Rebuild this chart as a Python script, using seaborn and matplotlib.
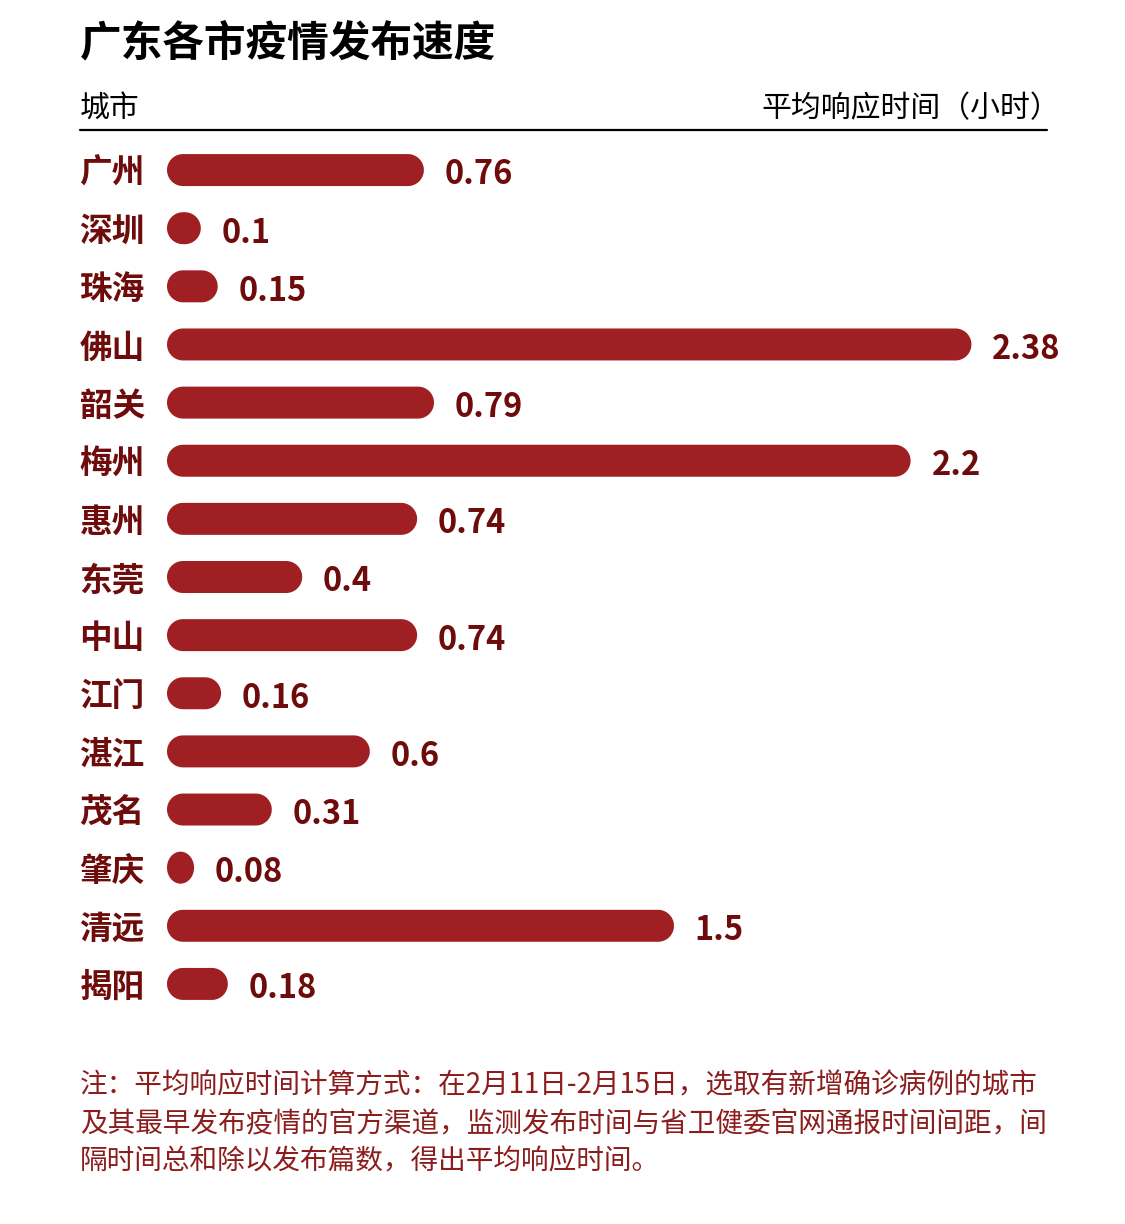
import numpy as np
import pandas as pd
import seaborn as sns
import matplotlib.pyplot as plt
from matplotlib.lines import Line2D
from matplotlib.patches import Polygon

cities = ['广州', '深圳', '珠海', '佛山', '韶关', '梅州', '惠州', '东莞',
          '中山', '江门', '湛江', '茂名', '肇庆', '清远', '揭阳']
hours = [0.76, 0.1, 0.15, 2.38, 0.79, 2.2, 0.74, 0.4,
         0.74, 0.16, 0.6, 0.31, 0.08, 1.5, 0.18]

title = '广东各市疫情发布速度'
left_head = '城市'
right_head = '平均响应时间（小时）'
note_lines = ['注：平均响应时间计算方式：在2月11日-2月15日，选取有新增确诊病例的城市',
              '及其最早发布疫情的官方渠道，监测发布时间与省卫健委官网通报时间间距，间',
              '隔时间总和除以发布篇数，得出平均响应时间。']

bar_color = '#a01f22'
text_red = '#6e0b0b'
note_red = '#8c1d1d'

sns.set_theme(style='white')
plt.rcParams['font.family'] = ['Noto Sans CJK SC', 'DejaVu Sans']

W, H = 1125, 1224
fig = plt.figure(figsize=(W / 100, H / 100), dpi=100)
left, right, top, bottom = 167, 1047, 141, 1013
ax = fig.add_axes([left / W, 1 - bottom / H, (right - left) / W, (bottom - top) / H])

df = pd.DataFrame({'city': cities, 'hours': hours})
sns.barplot(data=df, x='hours', y='city', color=bar_color, saturation=1,
            width=0.55, ax=ax, errorbar=None)
ax.set_xlim(0, (right - left) / 338)
ax.set_ylim(len(cities) - 0.5, -0.5)

# swap square bars for capsules with half-elliptic ends
sx = ax.transData.transform((1, 0))[0] - ax.transData.transform((0, 0))[0]
sy = abs(ax.transData.transform((0, 1))[1] - ax.transData.transform((0, 0))[1])
t = np.linspace(-np.pi / 2, np.pi / 2, 40)
for p in list(ax.patches):
    x0, y0, w, h = p.get_x(), p.get_y(), p.get_width(), p.get_height()
    p.remove()
    ry = h / 2
    rx = min(ry * sy / sx, w / 2)
    yc = y0 + ry
    right_end = np.column_stack([x0 + w - rx + rx * np.cos(t), yc + ry * np.sin(t)])
    left_end = np.column_stack([x0 + rx - rx * np.cos(t), yc - ry * np.sin(t)])
    ax.add_patch(Polygon(np.vstack([right_end, left_end]), closed=True,
                         fc=bar_color, ec='none'))

for i, v in enumerate(hours):
    ax.annotate(f'{v}', (v, i), xytext=(15, -1), textcoords='offset points',
                va='center_baseline', ha='left', fontsize=23.5, fontweight='bold',
                color=text_red)

ax.set_xlabel('')
ax.set_ylabel('')
ax.set_xticks([])
ax.tick_params(axis='y', length=0, pad=16, labelsize=23.5, labelcolor=text_red)
for lab in ax.get_yticklabels():
    lab.set_fontweight('bold')
sns.despine(ax=ax, left=True, bottom=True)

fig.text(80 / W, 1 - 43 / H, title, fontsize=30, fontweight='heavy', va='center', color='black')
fig.text(80 / W, 1 - 109 / H, left_head, fontsize=21.5, va='center', color='black')
fig.text(1060 / W, 1 - 109 / H, right_head, fontsize=21.5, va='center', ha='right', color='black')
fig.add_artist(Line2D([80 / W, 1047 / W], [1 - 130 / H] * 2, color='black', lw=1.6))

for k, line in enumerate(note_lines):
    fig.text(80 / W, 1 - (1086 + 38 * k) / H, line, fontsize=19.9, va='center', color=note_red)

fig.savefig('out.png', dpi=100, facecolor='white')
